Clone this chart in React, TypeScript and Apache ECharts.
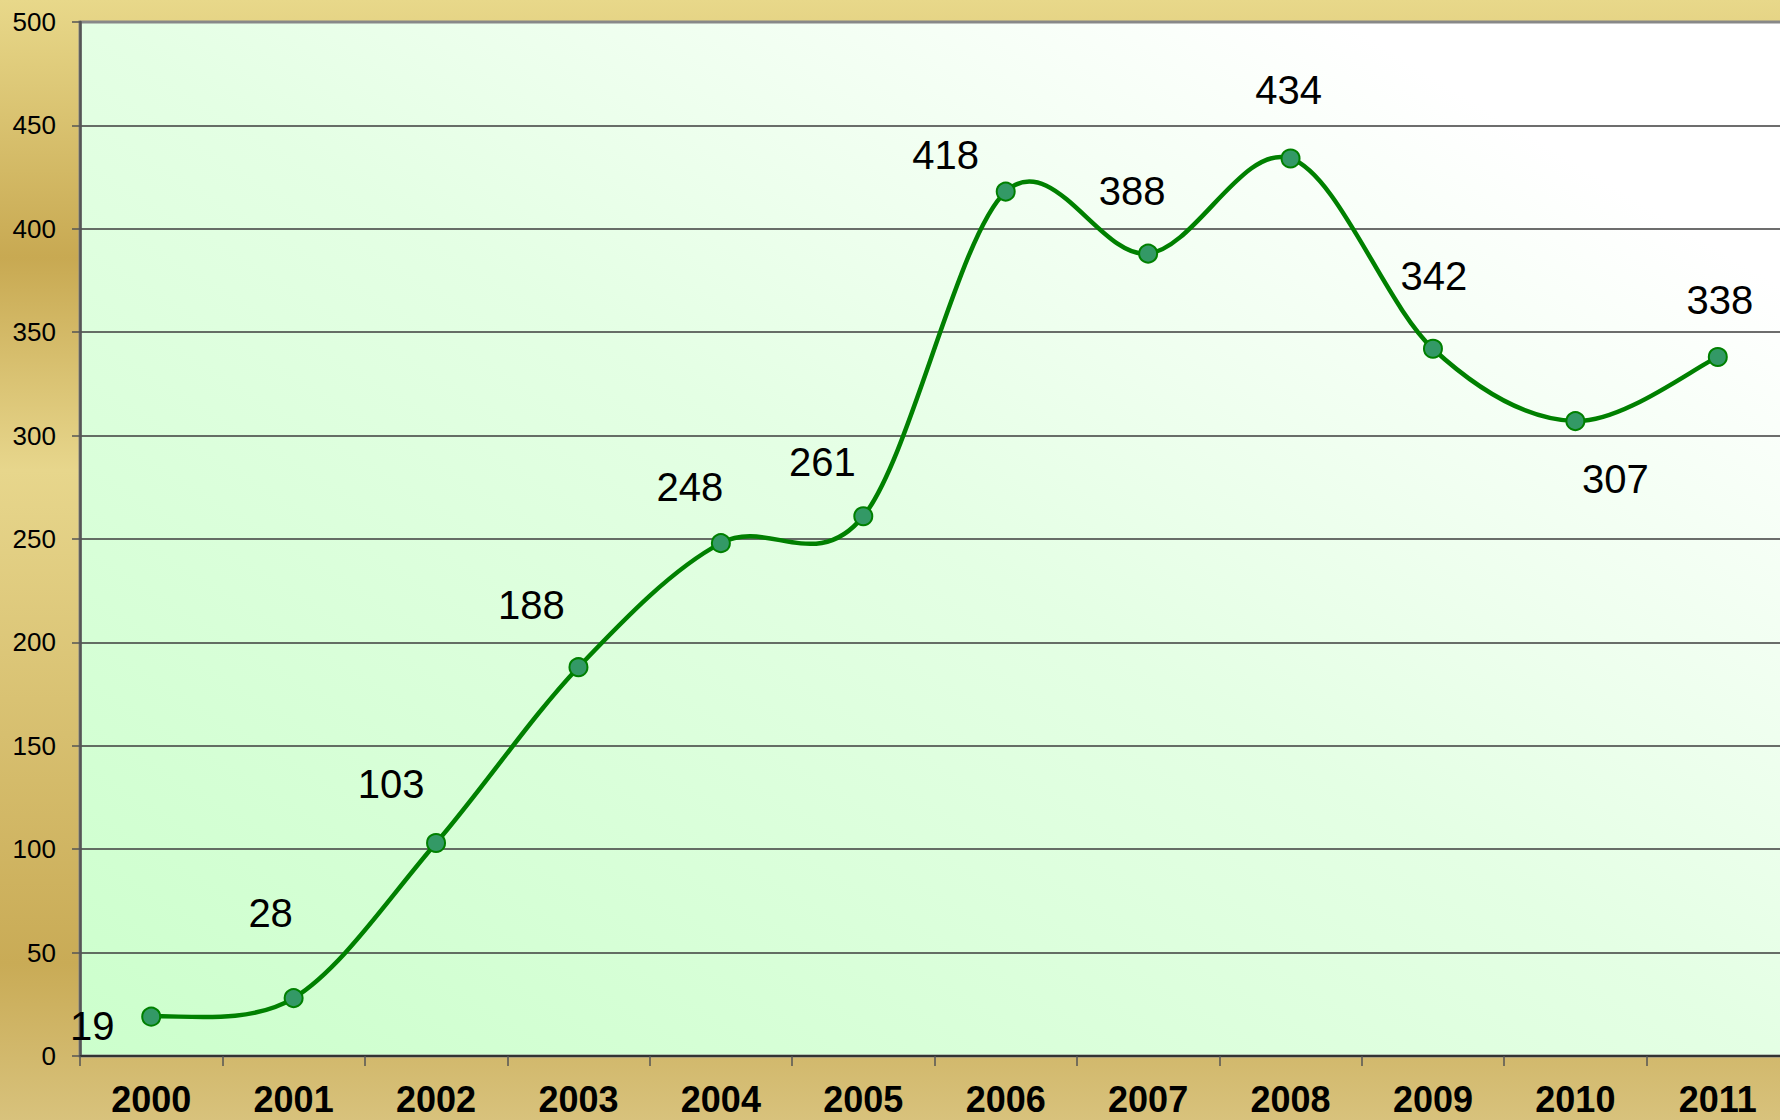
import React, { useEffect, useRef } from "react";
import * as echarts from "echarts";

const years: string[] = ["2000", "2001", "2002", "2003", "2004", "2005", "2006", "2007", "2008", "2009", "2010", "2011"];
const values: number[] = [19, 28, 103, 188, 248, 261, 418, 388, 434, 342, 307, 338];
const yTicks: number[] = [0, 50, 100, 150, 200, 250, 300, 350, 400, 450, 500];

const FONT = '"Liberation Sans", Arial, sans-serif';

// label placement (style only): offsets from each point in px
const labelOffsets: [number, number][] = [
  [-59, 9], [-23, -85], [-45, -59], [-47, -62], [-31, -56], [-41, -54],
  [-60, -37], [-16, -63], [-2, -68], [1, -73], [40, 58], [2, -57],
];

function smoothPath(pts: number[][]): string {
  // Catmull-Rom style smoothing (as in spreadsheet smoothed lines)
  let d = `M${pts[0][0]},${pts[0][1]}`;
  for (let i = 0; i < pts.length - 1; i++) {
    const p0 = pts[i - 1] || pts[i];
    const p1 = pts[i];
    const p2 = pts[i + 1];
    const p3 = pts[i + 2] || pts[i + 1];
    const c1x = p1[0] + (p2[0] - p0[0]) / 6;
    const c1y = p1[1] + (p2[1] - p0[1]) / 6;
    const c2x = p2[0] - (p3[0] - p1[0]) / 6;
    const c2y = p2[1] - (p3[1] - p1[1]) / 6;
    d += ` C${c1x},${c1y} ${c2x},${c2y} ${p2[0]},${p2[1]}`;
  }
  return d;
}

export default function App() {
  const ref = useRef<HTMLDivElement>(null);
  useEffect(() => {
    if (!ref.current) return;
    const chart = echarts.init(ref.current, null, { renderer: "svg" });
    const option: any = {
      animation: false,
      backgroundColor: {
        type: "linear", x: 0, y: 0, x2: 0, y2: 1,
        colorStops: [
          { offset: 0, color: "#e8d88a" },
          { offset: 0.23, color: "#c8a952" },
          { offset: 0.42, color: "#e7d68c" },
          { offset: 0.86, color: "#c9ab56" },
          { offset: 1, color: "#d8c27c" },
        ],
      },
      grid: {
        left: 80, top: 22, right: 1, height: 1034,
        show: true,
        borderWidth: 3,
        borderColor: "#888888",
        backgroundColor: {
          type: "linear", x: 0, y: 1, x2: 1, y2: 0,
          colorStops: [
            { offset: 0, color: "#ccffcc" },
            { offset: 0.5, color: "#e4ffe4" },
            { offset: 0.87, color: "#ffffff" },
            { offset: 1, color: "#ffffff" },
          ],
        },
      },
      xAxis: {
        type: "category",
        data: years,
        boundaryGap: true,
        axisLine: { show: true, lineStyle: { color: "#333333", width: 2 } },
        axisTick: { show: true, length: 10, lineStyle: { color: "#555555", width: 1.5 } },
        axisLabel: {
          color: "#000000", fontFamily: FONT, fontSize: 36, fontWeight: "bold", margin: 25,
        },
        splitLine: { show: false },
      },
      yAxis: {
        type: "value",
        min: 0, max: 500, interval: 50,
        axisLine: { show: true, lineStyle: { color: "#555555", width: 2.5 } },
        axisTick: { show: true, length: 8, lineStyle: { color: "#555555", width: 1.5 } },
        axisLabel: {
          color: "#000000", fontFamily: FONT, fontSize: 26, margin: 24,
          formatter: (v: number) => (yTicks.includes(v) ? String(v) : ""),
        },
        splitLine: { show: true, showMaxLine: false, lineStyle: { color: "#3c3c3c", width: 1.5 } },
      },
      series: [
        {
          type: "custom",
          data: values.map((v, i) => [i, v]),
          z: 3,
          silent: true,
          renderItem: (params: any, api: any) => {
            if (params.dataIndex !== 0) return null;
            const pts = values.map((v, i) => api.coord([i, v]));
            return {
              type: "path",
              shape: { pathData: smoothPath(pts) },
              style: { fill: "none", stroke: "#008000", lineWidth: 4.5 },
            };
          },
        },
        {
          type: "scatter",
          data: values.map((v, i) => ({
            value: [i, v],
            label: { offset: labelOffsets[i] },
          })),
          symbol: "circle",
          symbolSize: 18,
          itemStyle: { color: "#339966", borderColor: "#008000", borderWidth: 2, opacity: 1 },
          label: {
            show: true,
            position: "inside",
            color: "#000000",
            fontFamily: FONT,
            fontSize: 40,
            align: "center",
            verticalAlign: "middle",
            formatter: (p: any) => String(p.value[1]),
          },
          z: 5,
        },
      ],
    };
    chart.setOption(option);
    return () => chart.dispose();
  }, []);
  return (
    <div
      ref={ref}
      style={{ position: "fixed", left: 0, top: 0, width: 1790, height: 1120 }}
    />
  );
}
